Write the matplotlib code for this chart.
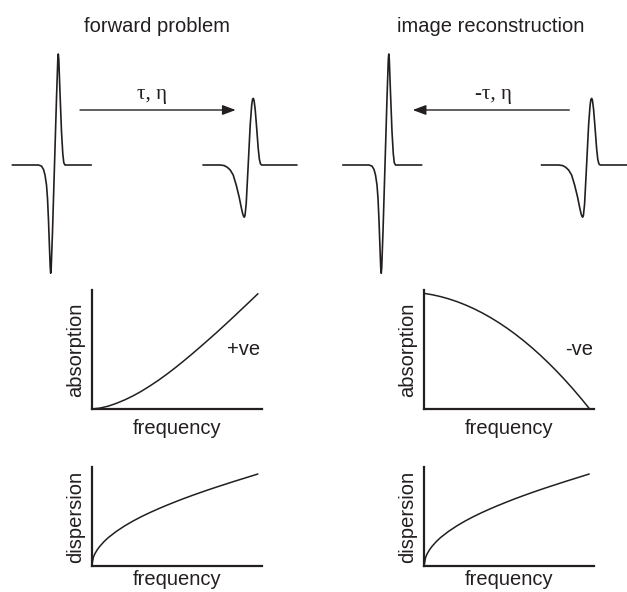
import matplotlib
matplotlib.use("Agg")
import matplotlib.pyplot as plt
import numpy as np

# ---- pulse shapes (time in samples relative to the zero crossing, amplitude normalised) ----
SOURCE_T = [-42, -16, -13, -11, -9.5, -8, -7, -6, -5, -4.3, -3.8, -3.3, -2, 0,
            2, 3.3, 3.8, 4.3, 5.5, 7, 8.3, 9.3, 10.5, 36.5]
SOURCE_AMP = [0, 0, -0.01, -0.04, -0.09, -0.18, -0.3, -0.5, -0.75, -0.92, -0.975, -0.93, -0.6, 0,
              0.6, 0.95, 1.0, 0.95, 0.65, 0.3, 0.1, 0.02, 0, 0]

DAMPED_T = [-45, -28, -24, -21, -18, -15, -12, -9, -7, -5.5, -4.5, -3.9, -3.2, -2, 0,
            2, 3.5, 4.3, 5.1, 5.9, 7, 8.5, 10, 11.2, 12.3, 13.5, 48.5]
DAMPED_AMP = [0, 0, -0.005, -0.02, -0.045, -0.09, -0.18, -0.29, -0.38, -0.44, -0.465, -0.47, -0.455, -0.35, 0,
              0.36, 0.54, 0.59, 0.6, 0.58, 0.5, 0.33, 0.15, 0.05, 0.01, 0, 0]

# ---- absorption / dispersion curves versus normalised frequency ----
FREQ = [0, 0.05, 0.1, 0.15, 0.2, 0.25, 0.3, 0.35, 0.4, 0.45, 0.5,
        0.55, 0.6, 0.65, 0.7, 0.75, 0.8, 0.85, 0.9, 0.95, 1.0]
ABS_POS = [0, 0.008, 0.025, 0.05, 0.08, 0.115, 0.155, 0.20, 0.248, 0.30, 0.355,
           0.413, 0.473, 0.535, 0.598, 0.662, 0.728, 0.795, 0.863, 0.931, 1.0]
ABS_NEG = [1.0, 0.988, 0.972, 0.952, 0.928, 0.90, 0.868, 0.832, 0.792, 0.748, 0.70,
           0.648, 0.592, 0.532, 0.468, 0.40, 0.328, 0.252, 0.172, 0.088, 0.0]
DISP_FREQ = [0, 0.01, 0.02, 0.035, 0.05, 0.075, 0.1, 0.15, 0.2, 0.25, 0.3, 0.35, 0.4,
             0.45, 0.5, 0.55, 0.6, 0.65, 0.7, 0.75, 0.8, 0.85, 0.9, 0.95, 1.0]
DISP = [0, 0.095, 0.135, 0.18, 0.215, 0.265, 0.307, 0.376, 0.435, 0.487, 0.534, 0.577, 0.617,
        0.655, 0.691, 0.726, 0.759, 0.791, 0.822, 0.852, 0.881, 0.91, 0.938, 0.966, 0.994]

TITLES = ["forward problem", "image reconstruction"]
ARROW_LABELS = ["\u03c4, \u03b7", "-\u03c4, \u03b7"]
SIGN_LABELS = ["+ve", "-ve"]

INK = "#231f20"
SANS = ["Liberation Sans", "DejaVu Sans"]
SERIF = ["Liberation Serif", "DejaVu Serif"]
FS = 14.5

W, H = 627, 592
fig = plt.figure(figsize=(W / 100, H / 100), dpi=100)

# drawing canvas in pixel units for the pulse sketches
canvas = fig.add_axes([0, 0, 1, 1])
canvas.set_xlim(0, W)
canvas.set_ylim(H, 0)
canvas.axis("off")

AMP_PX = 111
BASE_Y = 165


def draw_pulse(t, a, cx):
    x = np.asarray(t) + cx
    y = BASE_Y - np.asarray(a) * AMP_PX
    canvas.plot(x, y, color=INK, lw=1.2, solid_joinstyle="round")


draw_pulse(SOURCE_T, SOURCE_AMP, 54.5)
draw_pulse(DAMPED_T, DAMPED_AMP, 248.2)
draw_pulse(SOURCE_T, SOURCE_AMP, 385.0)
draw_pulse(DAMPED_T, DAMPED_AMP, 586.6)

arrow_kw = dict(arrowstyle="-|>,head_length=0.8,head_width=0.3", mutation_scale=10,
                color=INK, lw=1.0, shrinkA=0, shrinkB=0)
canvas.annotate("", xy=(235.7, 110), xytext=(80, 110), arrowprops=arrow_kw)
canvas.annotate("", xy=(412.7, 110), xytext=(569.3, 110), arrowprops=arrow_kw)

canvas.text(151.7, 99.5, ARROW_LABELS[0], family=SERIF, fontsize=15, color=INK,
            ha="center", va="baseline")
canvas.text(493.5, 99.5, ARROW_LABELS[1], family=SERIF, fontsize=15, color=INK,
            ha="center", va="baseline")

canvas.text(157, 31.5, TITLES[0], family=SANS, fontsize=FS, color=INK, ha="center", va="baseline")
canvas.text(491, 31.5, TITLES[1], family=SANS, fontsize=FS, color=INK, ha="center", va="baseline")


def make_axes(x0, x1, y_top, y_bot):
    return fig.add_axes([x0 / W, (H - y_bot) / H, (x1 - x0) / W, (y_bot - y_top) / H])


def style(ax, xmax, ymax):
    ax.set_xlim(0, xmax)
    ax.set_ylim(0, ymax)
    for s in ("top", "right"):
        ax.spines[s].set_visible(False)
    for s in ("left", "bottom"):
        ax.spines[s].set_linewidth(1.6)
        ax.spines[s].set_color(INK)
        ax.spines[s].set_capstyle("projecting")
    ax.set_xticks([])
    ax.set_yticks([])
    ax.patch.set_alpha(0)


panels = [
    # (x0, x1, y_top, y_bot, xs, ys, xmax, ymax, ylabel, sign, sign_x, xlabel_pad)
    (91.7, 262, 290, 409, FREQ, ABS_POS, 1.022, 1.029, "absorption", SIGN_LABELS[0], 0.894, 7),
    (424, 594, 290, 409, FREQ, ABS_NEG, 1.026, 1.029, "absorption", SIGN_LABELS[1], 0.912, 7),
    (91.7, 262, 467, 566, DISP_FREQ, DISP, 1.022, 1.068, "dispersion", None, None, 3),
    (424, 594, 467, 566, DISP_FREQ, DISP, 1.026, 1.068, "dispersion", None, None, 3),
]

for x0, x1, yt, yb, xs, ys, xmax, ymax, ylab, sign, sx, xpad in panels:
    ax = make_axes(x0, x1, yt, yb)
    style(ax, xmax, ymax)
    ax.plot(xs, ys, color=INK, lw=1.1, clip_on=False, solid_capstyle="butt",
            solid_joinstyle="round")
    ax.set_xlabel("frequency", family=SANS, fontsize=FS, color=INK, labelpad=xpad)
    ax.set_ylabel(ylab, family=SANS, fontsize=FS, color=INK, labelpad=5)
    if sign:
        ax.text(sx, 0.5, sign, transform=ax.transAxes, family=SANS, fontsize=FS,
                color=INK, ha="center", va="center")

fig.savefig("out.png", dpi=100)
